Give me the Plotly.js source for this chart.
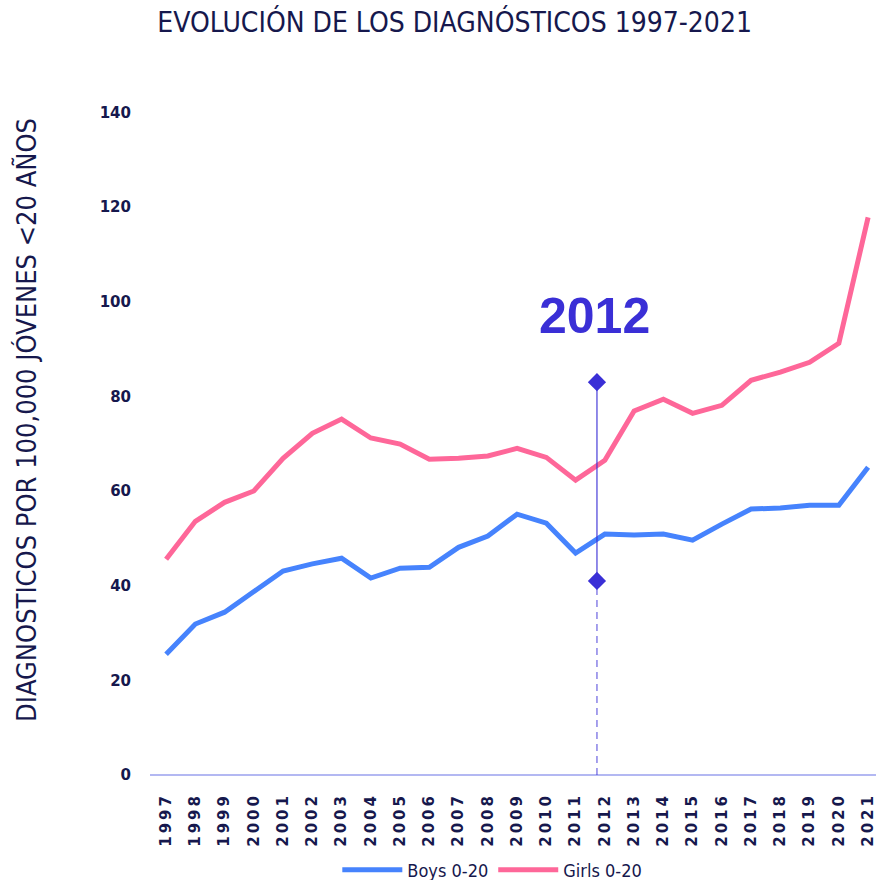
<!DOCTYPE html>
<html>
<head>
<meta charset="utf-8">
<script src="https://cdn.plot.ly/plotly-3.0.1.min.js"></script>
<style>html,body{margin:0;padding:0;background:#fff}#chart{width:876px;height:880px}
#chart .xtick text{letter-spacing:3px}</style>
</head>
<body>
<div id="chart"></div>
<script>
const years = [1997,1998,1999,2000,2001,2002,2003,2004,2005,2006,2007,2008,2009,2010,2011,2012,2013,2014,2015,2016,2017,2018,2019,2020,2021];
const boys  = [25.5,31.9,34.4,38.6,43.1,44.6,45.8,41.6,43.7,43.9,48.1,50.5,55.1,53.2,46.9,50.9,50.7,50.9,49.6,53.0,56.2,56.4,57.0,57.0,65.0];
const girls = [45.6,53.6,57.6,60.0,66.9,72.2,75.2,71.2,69.9,66.7,66.9,67.4,69.0,67.1,62.3,66.5,76.9,79.4,76.4,78.1,83.4,85.1,87.2,91.2,117.8];
const markerX = 2011.73;
const markerRange = [41, 83];
const markerLabel = "2012";
const markerLabelX = 2011.63;
const markerLabelY = 97;
const yTicks = [0,20,40,60,80,100,120,140];

const navy = "#16184d";
const markColor = "#3a2fd6";
const narrow = "DejaVu Sans Condensed, sans-serif";

const traces = [
  {x: years, y: boys, name: "Boys 0-20", mode: "lines", line: {color: "#4683fd", width: 5}},
  {x: years, y: girls, name: "Girls 0-20", mode: "lines", line: {color: "#fe6799", width: 5}},
  {x: [markerX, markerX], y: [0, markerRange[0]], mode: "lines", showlegend: false, hoverinfo: "skip",
   line: {color: "rgba(58,47,214,0.6)", width: 1.5, dash: "7px,5px"}},
  {x: [markerX, markerX], y: markerRange, mode: "lines+markers", showlegend: false,
   line: {color: "rgba(58,47,214,0.75)", width: 1.5},
   marker: {symbol: "diamond", size: 14, color: markColor}},
];

const layout = {
  width: 876, height: 880,
  margin: {l: 150, r: 0, t: 65, b: 105},
  paper_bgcolor: "#fff", plot_bgcolor: "#fff",
  showlegend: true,
  title: {text: "EVOLUCIÓN DE LOS DIAGNÓSTICOS 1997-2021", xref: "container", x: 0.519, xanchor: "center",
          yref: "container", y: 0.975, yanchor: "middle",
          font: {family: narrow, size: 28, color: navy}},
  xaxis: {range: [1996.45, 2021.27], tickmode: "array", tickvals: years, ticktext: years.map(String),
          automargin: false, ticklabeloverflow: "allow",
          tickangle: -90, showgrid: false, zeroline: false, showline: false,
          ticks: "outside", ticklen: 11, tickcolor: "rgba(0,0,0,0)",
          tickfont: {family: "DejaVu Sans", size: 15, weight: "bold", color: navy}},
  yaxis: {range: [0, 150], tickmode: "array", tickvals: yTicks, showgrid: false, automargin: false,
          zeroline: true, zerolinecolor: "#b3b8f2", zerolinewidth: 2, showline: false,
          ticks: "outside", ticklen: 15, tickcolor: "rgba(0,0,0,0)",
          tickfont: {family: "DejaVu Sans", size: 15, weight: "bold", color: navy},
          title: {text: "DIAGNOSTICOS POR 100,000 JÓVENES <20 AÑOS", standoff: 55,
                  font: {family: narrow, size: 27, color: navy}}},
  legend: {orientation: "h", xref: "container", x: 0.562, xanchor: "center",
           yref: "container", y: 0.0114, yanchor: "middle",
           font: {family: narrow, size: 18, color: navy}, itemwidth: 60},
  annotations: [{x: markerLabelX, y: markerLabelY, xref: "x", yref: "y", text: "<b>" + markerLabel + "</b>",
                 showarrow: false, font: {family: "Liberation Sans", size: 50, color: markColor}}],
};

Plotly.newPlot("chart", traces, layout, {displayModeBar: false, staticPlot: true});
</script>
</body>
</html>
